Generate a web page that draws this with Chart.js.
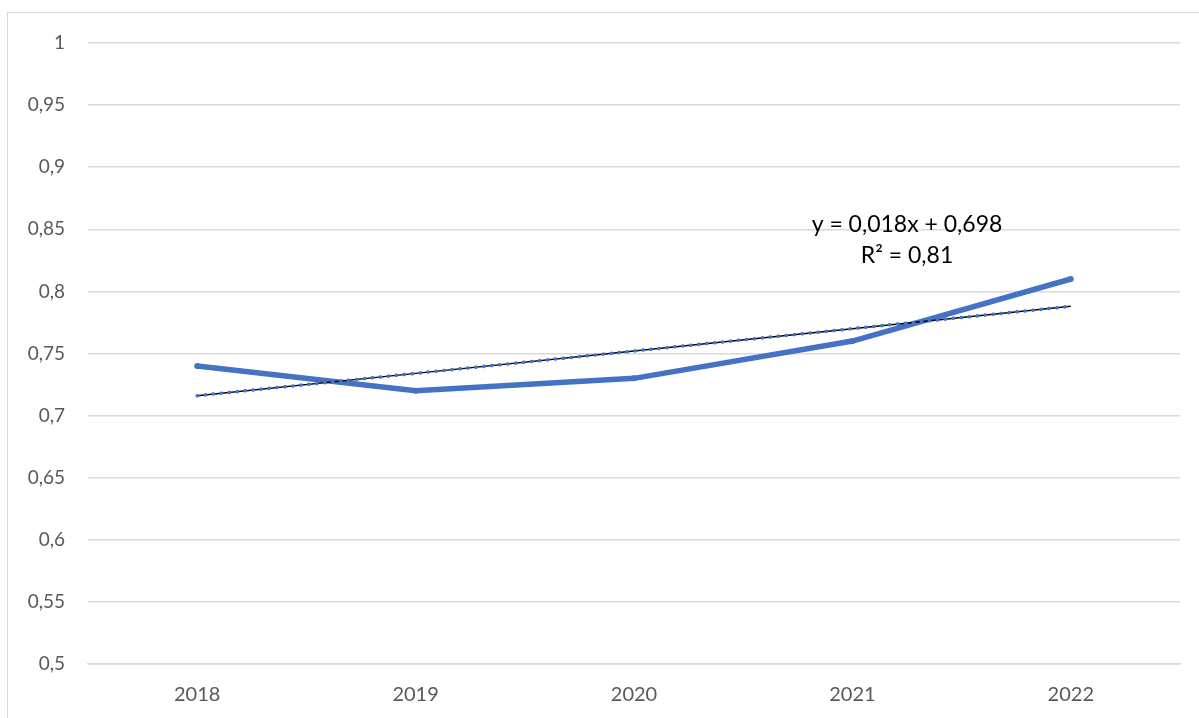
<!DOCTYPE html>
<html>
<head>
<meta charset="utf-8">
<script src="https://cdn.jsdelivr.net/npm/chart.js@4.4.1/dist/chart.umd.min.js"></script>
<style>
  html, body { margin: 0; padding: 0; background: #fff; overflow: hidden; }
  #frame {
    position: absolute; left: 7px; top: 12px; width: 1400px; height: 900px;
    border: 1.5px solid #d9d9d9; box-sizing: border-box;
  }
  #wrap { position: absolute; left: 0; top: 0; width: 1199px; height: 718px; }
</style>
</head>
<body>
<div id="frame"></div>
<div id="wrap"><canvas id="chart"></canvas></div>
<script>
// 年ごとの値
const years = ['2018', '2019', '2020', '2021', '2022'];
const values = [0.74, 0.72, 0.73, 0.76, 0.81];

// 線形近似 y = 0,018x + 0,698（x = 1..5）
const trendValues = [0.716, 0.734, 0.752, 0.77, 0.788];
const trendLabel = ['y = 0,018x + 0,698', 'R² = 0,81'];

const fmt = v => String(Math.round(v * 100) / 100).replace('.', ',');
const FONT = 'Lato, "Liberation Sans", sans-serif';

// 近似式のラベル
const trendText = {
  id: 'trendText',
  afterDatasetsDraw(chart) {
    const { ctx, scales: { x, y } } = chart;
    const cx = x.getPixelForValue(3) + (x.getPixelForValue(4) - x.getPixelForValue(3)) * 0.25;
    const cy = y.getPixelForValue(0.854);
    ctx.save();
    ctx.font = '23px ' + FONT;
    ctx.fillStyle = '#000';
    ctx.textAlign = 'center';
    ctx.textBaseline = 'middle';
    ctx.fillText(trendLabel[0], cx, cy);
    ctx.fillText(trendLabel[1], cx, cy + 31);
    ctx.restore();
  }
};

const ctx = document.getElementById('chart').getContext('2d');
new Chart(ctx, {
  type: 'line',
  data: {
    labels: years,
    datasets: [
      {
        label: '値',
        data: values,
        borderColor: '#4472C4',
        backgroundColor: '#4472C4',
        borderWidth: 5.5,
        pointRadius: 3,
        pointBorderWidth: 0,
        fill: false,
        order: 3
      },
      {
        label: '線形近似',
        data: trendValues,
        borderColor: '#000',
        borderWidth: 1.5,
        pointRadius: 0,
        fill: false,
        order: 2
      },
      {
        label: '線形近似（点）',
        data: trendValues,
        borderColor: '#4472C4',
        borderWidth: 3.5,
        borderDash: [0.5, 7.5],
        borderCapStyle: 'round',
        pointRadius: 0,
        fill: false,
        order: 1
      }
    ]
  },
  options: {
    responsive: true,
    maintainAspectRatio: false,
    animation: false,
    layout: { padding: { left: 0, right: 19, top: 43, bottom: 0 } },
    plugins: {
      legend: { display: false },
      tooltip: { enabled: false }
    },
    scales: {
      x: {
        offset: true,
        grid: { display: false, drawTicks: false },
        border: { display: true, color: '#d9d9d9', width: 1.5 },
        ticks: {
          color: '#595959',
          padding: 19,
          font: { size: 20, family: FONT }
        },
        afterFit: s => { s.height = 718 - 664; }
      },
      y: {
        min: 0.5,
        max: 1,
        grid: { color: '#d9d9d9', lineWidth: 1.5, drawTicks: false },
        border: { display: false },
        ticks: {
          stepSize: 0.05,
          color: '#595959',
          padding: 23,
          font: { size: 19, family: FONT },
          callback: v => fmt(v)
        },
        afterFit: s => { s.width = 88; }
      }
    }
  },
  plugins: [trendText]
});
</script>
</body>
</html>
